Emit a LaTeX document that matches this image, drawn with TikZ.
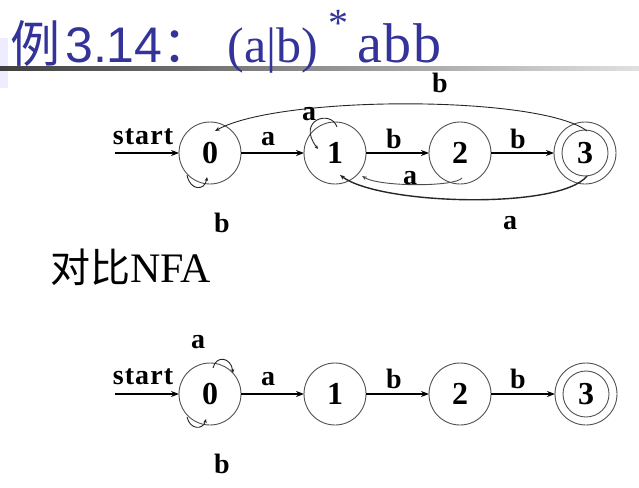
\documentclass[tikz,border=0pt]{standalone}
\usepackage{fontspec}
\setmainfont{Liberation Serif}
\newfontfamily\cjk{Noto Sans CJK SC}
\newfontfamily\arialf{Liberation Sans}
\usetikzlibrary{arrows.meta,calc}
\definecolor{titleblue}{RGB}{51,51,153}
\definecolor{ringgray}{RGB}{80,80,80}
\begin{document}
\begin{tikzpicture}[x=1pt,y=-1pt,
  stateA/.style={circle,draw=ringgray,line width=0.9pt,minimum size=62pt,inner sep=0pt,outer sep=0pt,font=\bfseries\fontsize{32}{32}\selectfont},
  acceptA/.style={stateA,path picture={\draw[ringgray,line width=0.9pt] (path picture bounding box.center) circle (23pt);}},
  lbl/.style={inner sep=0pt,font=\bfseries\fontsize{28}{28}\selectfont},
  startlbl/.style={inner sep=0pt,font=\bfseries\fontsize{28}{28}\selectfont\addfontfeature{LetterSpace=4}},
  thickarrow/.style={line width=1.8pt,-{Stealth[length=8pt,width=6pt]}},
  thinarc/.style={line width=0.9pt,draw=black!85,-{Stealth[length=5pt,width=4pt]}},
  loopA/.style={line width=0.9pt,draw=black!85,-{Stealth[length=4pt,width=3.5pt]}},
]
\useasboundingbox (0,0) rectangle (639,487);
% slide decoration
\fill[blue!7!white] (0,38) rectangle (8,88);
\shade[left color=black!75, right color=black!12] (0,66) rectangle (639,70);
% title
\node[anchor=base west,inner sep=0pt,text=titleblue] (title) at (10,63)
  {\fontsize{50}{50}\selectfont{\cjk 例}\hspace{5pt}{\arialf 3.14}{\cjk ：}\hspace{15pt}(a|b)\hspace{10pt}\raisebox{26pt}{\fontsize{40}{40}\selectfont *}\hspace{9pt}{\fontsize{56}{56}\selectfont\addfontfeature{LetterSpace=3}abb}};
% ---- DFA ----
\node[stateA] (d0) at (210,153) {0\hspace{10pt}};
\node[stateA] (d1) at (335,153) {1\hspace{10pt}};
\node[stateA] (d2) at (460,153) {2\hspace{10pt}};
\node[acceptA] (d3) at (585,153) {3};
\coordinate (ds) at (115,153);
\node[startlbl] (dst) at (143,137) {start};
\draw[thickarrow] (ds) -- (d0);
\draw[thickarrow] (d0) -- (d1);
\draw[thickarrow] (d1) -- (d2);
\draw[thickarrow] (d2) -- (d3);
\node[lbl] (la01) at (268,139) {a};
\node[lbl] (lb12) at (394,139) {b};
\node[lbl] (lb23) at (518,139) {b};
% 3 -> 0 on b
\draw[thinarc] ($(d3)+(2,-22)$) .. controls (540,95) and (280,95) .. ($(d0)+(5,-22)$);
\node[lbl] (lb30) at (440,83) {b};
% loop on 1 (a)
\draw[loopA] ($(d1)+(2,-26)$) .. controls (331,109) and (296,120) .. ($(d1)+(-17,-4)$);
\node[lbl] (la11) at (309,114) {a};
% loop on 0 (b)
\draw[loopA] ($(d0)+(-23,22)$) .. controls (190,191) and (205,191) .. ($(d0)+(-3,24)$);
\node[lbl] (lb00) at (222,223) {b};
% 2 -> 1 on a
\draw[thinarc,draw=black!70] ($(d2)+(2,25)$) .. controls (455,187) and (380,187) .. ($(d1)+(27,23)$);
\node[lbl] (la21) at (410,178) {a};
% 3 -> 1 on a
\draw[thinarc,line width=1.4pt] ($(d3)+(2,23)$) .. controls (560,210) and (380,205) .. ($(d1)+(5,22)$);
\node[lbl] (la31) at (510,223) {a};
% ---- NFA ----
\node[anchor=base west,inner sep=0pt] (cmp) at (50,282) {\fontsize{40}{40}\selectfont{\cjk 对比}\fontsize{42}{42}\selectfont NFA};
\node[stateA] (n0) at (210,394) {0\hspace{10pt}};
\node[stateA] (n1) at (335,394) {1\hspace{10pt}};
\node[stateA] (n2) at (460,394) {2\hspace{10pt}};
\node[acceptA] (n3) at (586,394) {3};
\coordinate (ns) at (115,394);
\node[startlbl] (nst) at (143,377) {start};
\draw[thickarrow] (ns) -- (n0);
\draw[thickarrow] (n0) -- (n1);
\draw[thickarrow] (n1) -- (n2);
\draw[thickarrow] (n2) -- (n3);
\node[lbl] (na01) at (268,379) {a};
\node[lbl] (nb12) at (394,379) {b};
\node[lbl] (nb23) at (518,379) {b};
\draw[loopA] ($(n0)+(3,-26)$) .. controls (216,355) and (231,357) .. ($(n0)+(23,-21)$);
\node[lbl] (na00) at (198,342) {a};
\draw[loopA] ($(n0)+(-23,23)$) .. controls (190,430) and (203,430) .. ($(n0)+(-4,25)$);
\node[lbl] (nb00) at (222,464) {b};
\end{tikzpicture}
\end{document}
